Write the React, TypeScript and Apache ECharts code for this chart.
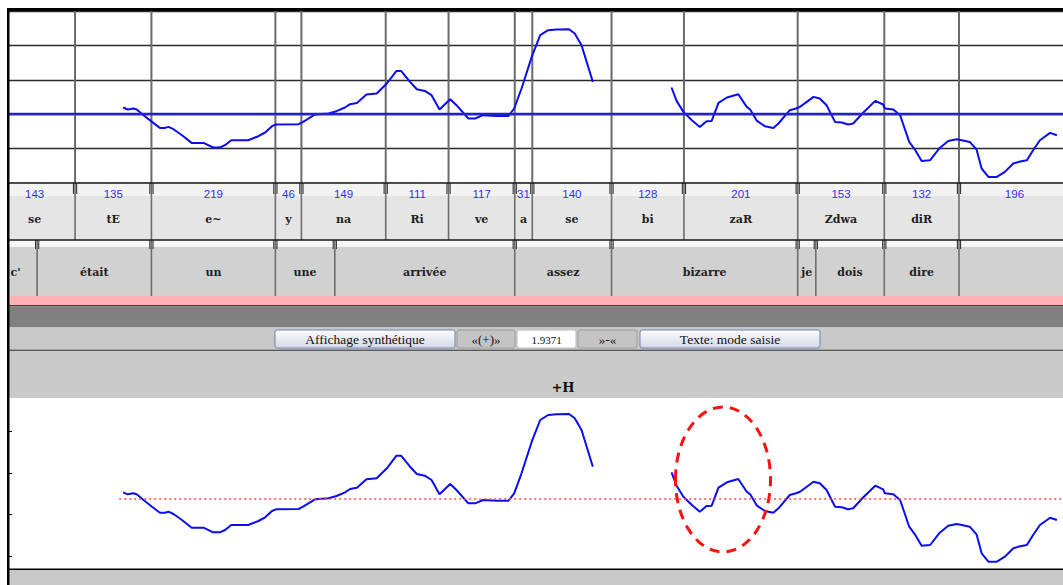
import React, { useEffect, useRef } from "react";
import * as echarts from "echarts";

// ---- data (time in ms, pitch relative to reference line) ----
const sylLabels = ["se", "tE", "e~", "y", "na", "Ri", "ve", "a", "se", "bi", "zaR", "Zdwa", "diR", ""];
const sylDurations = [143, 135, 219, 46, 149, 111, 117, 31, 140, 128, 201, 153, 132, 196];
const wordLabels = ["c'", "était", "un", "une", "arrivée", "assez", "bizarre", "je", "dois", "dire", ""];
const wordBounds = [0, 76, 278, 497, 602, 920, 1091, 1420, 1452, 1573, 1705, 1901];

const f0Time = [
  228, 236, 246, 252, 264, 279, 293, 302, 308, 317, 332, 349, 370, 387, 399, 408, 419, 449, 467, 479,
  491, 498, 538, 546, 567, 591, 605, 620, 629, 641, 658, 676, 694, 711, 719, 735, 747, 761, 773, 787,
  806, 817, 838, 850, 864, 888, 909, 919, 932, 950, 965, 979, 994, 1016, 1026, 1038, 1058,
  1120,
  1197, 1206, 1218, 1233, 1247, 1259, 1268, 1280, 1295, 1315, 1330, 1336, 1348, 1362, 1377, 1386, 1406, 1417, 1424, 1448,
  1459, 1471, 1486, 1498, 1509, 1518, 1536, 1557, 1571, 1574, 1589, 1601, 1610, 1617, 1627, 1639, 1654, 1671, 1686, 1701,
  1710, 1724, 1736, 1745, 1757, 1772, 1786, 1801, 1813, 1825, 1836, 1848, 1866, 1878,
];
const f0Rel: (number | null)[] = [
  6.7, 4.7, 5.7, 4.7, -1, -7.7, -13.7, -13.7, -12.7, -15, -21, -28.7, -28.7, -33.3, -33.3, -31, -26, -26, -22, -18.3,
  -12, -10.3, -10, -7.7, -0.3, 0.7, 3, 6.7, 10, 11.3, 19.7, 20.7, 30.7, 43.3, 43.3, 32.3, 25, 23.3, 19, 4.7,
  15, 9, -4.3, -4.3, -1, -1.7, -1.7, 5.7, 25.7, 57.3, 79, 84, 84.7, 85, 80.7, 69, 32.3,
  null,
  26.7, 13.3, 2.3, -6, -12.7, -7, -6.7, 11.3, 16.7, 20, 7.3, 4.7, -6.7, -12, -13.7, -9.3, 4, 5.7, 7.3, 17.3,
  15.7, 9, -7.7, -8.3, -10.3, -9.3, 1.7, 13.3, 9.7, 5.7, 4.7, -1, -16, -27.7, -35.3, -46.7, -46, -33.7, -26.7, -25,
  -26, -27.7, -35.3, -54.3, -62.7, -62.7, -57.7, -49.3, -47.3, -46, -36, -26, -18.7, -21,
];
const bottomTicks = [68, 26, -15, -57];
const refLineStart = 221;
const highlight = [1288, 19.5, 84, 72.5]; // centre time, centre value, half-width (ms), half-height
const buttons = ["Affichage synthétique", "«(+)»", "1.9371", "»-«", "Texte: mode saisie"];
const annotation = "+H";

const X_MIN = 26.3;
const X_MAX = 1888.8;

function buildOption(): any {
  let acc = 0;
  const sylStarts = sylDurations.map((d) => {
    const s = acc;
    acc += d;
    return s;
  });
  const sylData = sylStarts.map((s, i) => [s, s + sylDurations[i], 0.5, i]);
  const wordData = wordLabels.map((_, i) => [wordBounds[i], wordBounds[i + 1], 0.5, i]);
  const curve = f0Time.map((t, i) => [t, f0Rel[i] === null ? "-" : f0Rel[i]]);

  const tierRender =
    (labels: string[], nums: number[] | null, o: any) => (params: any, api: any) => {
      const i = api.value(3);
      const x0 = api.coord([api.value(0), 0.5])[0];
      const x1 = api.coord([api.value(1), 0.5])[0];
      const cs = params.coordSys;
      const top = cs.y;
      const h = cs.height;
      const children: any[] = [
        { type: "rect", shape: { x: x0, y: top, width: x1 - x0, height: o.stripH }, style: { fill: o.stripFill } },
        { type: "rect", shape: { x: x0, y: top + o.stripH, width: x1 - x0, height: h - o.stripH }, style: { fill: o.fill } },
        { type: "line", shape: { x1: x0, y1: top, x2: x0, y2: top + h }, style: { stroke: "#6e6e6e", lineWidth: 1.6 } },
        { type: "line", shape: { x1: x0 - 1.6, y1: top, x2: x0 - 1.6, y2: top + o.markH }, style: { stroke: "#333", lineWidth: 1.1 } },
        { type: "line", shape: { x1: x0 + 1.6, y1: top, x2: x0 + 1.6, y2: top + o.markH }, style: { stroke: "#333", lineWidth: 1.1 } },
        {
          type: "text",
          style: {
            text: labels[i], x: (x0 + x1) / 2, y: top + o.labelY, align: "center", verticalAlign: "middle",
            font: 'bold 11px "DejaVu Serif"', fill: "#222",
          },
        },
      ];
      if (nums) {
        children.push({
          type: "text",
          style: {
            text: String(nums[i]), x: (x0 + x1) / 2, y: top + o.numY, align: "center", verticalAlign: "middle",
            font: '11.5px "Liberation Sans"', fill: "#2f2fff",
          },
        });
      }
      return { type: "group", children };
    };

  const hidden = { show: false };
  const xAx = (g: number) => ({ type: "value", gridIndex: g, min: X_MIN, max: X_MAX, show: false });

  const btnGrad = {
    type: "linear", x: 0, y: 0, x2: 0, y2: 1,
    colorStops: [{ offset: 0, color: "#fbfcfe" }, { offset: 1, color: "#d3d9e6" }],
  };
  const btnDefs = [
    { x: 275, w: 180, fill: btnGrad, stroke: "#6f83b2", font: '13.5px "Liberation Serif"' },
    { x: 457, w: 58, fill: "#c4c4c4", stroke: "#9c9c9c", font: '13px "Liberation Serif"' },
    { x: 517, w: 59, fill: "#ffffff", stroke: "#bdbdbd", font: '11px "Liberation Serif"' },
    { x: 578, w: 59, fill: "#c4c4c4", stroke: "#9c9c9c", font: '13px "Liberation Serif"' },
    { x: 640, w: 180, fill: btnGrad, stroke: "#6f83b2", font: '13.5px "Liberation Serif"' },
  ];
  const btnEls: any[] = [];
  btnDefs.forEach((b, i) => {
    btnEls.push({
      type: "rect", z: 10, shape: { x: b.x, y: 330, width: b.w, height: 18, r: 2 },
      style: { fill: b.fill, stroke: b.stroke, lineWidth: 1 },
    });
    btnEls.push({
      type: "text", z: 11, x: b.x + b.w / 2, y: 339.5,
      style: { text: buttons[i], font: b.font, fill: "#111", align: "center", verticalAlign: "middle" },
    });
  });

  return {
    animation: false,
    backgroundColor: "#ffffff",
    grid: [
      { left: 9, right: 0, top: 11, height: 172 },
      { left: 9, right: 0, top: 183, height: 57 },
      { left: 9, right: 0, top: 240, height: 56 },
      { left: 9, right: 0, top: 398, height: 171 },
    ],
    xAxis: [xAx(0), xAx(1), xAx(2), xAx(3)],
    yAxis: [
      {
        type: "value", gridIndex: 0, min: -68.8, max: 103.2, interval: 34.4,
        axisLine: hidden, axisTick: hidden, axisLabel: hidden,
        splitLine: { show: true, lineStyle: { color: "#2a2a2a", width: 1.4 } },
      },
      { type: "value", gridIndex: 1, min: 0, max: 1, show: false },
      { type: "value", gridIndex: 2, min: 0, max: 1, show: false },
      {
        type: "value", gridIndex: 3, min: -70, max: 101,
        axisLine: hidden, axisLabel: hidden, splitLine: hidden,
        axisTick: { show: true, inside: true, length: 3, customValues: bottomTicks, lineStyle: { color: "#000", width: 1 } },
      },
    ],
    series: [
      {
        type: "custom", xAxisIndex: 0, yAxisIndex: 0, z: 1, clip: true,
        data: sylStarts.slice(1).map((t) => [t, 0]),
        renderItem: (params: any, api: any) => {
          const x = api.coord([api.value(0), 0])[0];
          const cs = params.coordSys;
          return { type: "line", shape: { x1: x, y1: cs.y, x2: x, y2: cs.y + cs.height }, style: { stroke: "#6a6a6a", lineWidth: 2 } };
        },
      },
      {
        type: "line", xAxisIndex: 0, yAxisIndex: 0, z: 3, data: curve, showSymbol: false, connectNulls: false,
        lineStyle: { color: "#0c0cf2", width: 2 }, silent: true,
        markLine: {
          silent: true, symbol: ["none", "none"], label: { show: false },
          lineStyle: { color: "#2222cc", width: 2.4, type: "solid" },
          data: [{ yAxis: 0 }],
        },
      },
      {
        type: "custom", xAxisIndex: 1, yAxisIndex: 1, clip: true, encode: { x: [0, 1], y: 2 },
        data: sylData,
        renderItem: tierRender(sylLabels, sylDurations, { stripH: 13, stripFill: "#f3f3f3", fill: "#e5e5e5", markH: 11, labelY: 36, numY: 10.5 }),
      },
      {
        type: "custom", xAxisIndex: 2, yAxisIndex: 2, clip: true, encode: { x: [0, 1], y: 2 },
        data: wordData,
        renderItem: tierRender(wordLabels, null, { stripH: 7, stripFill: "#f7f7f7", fill: "#d1d1d1", markH: 9, labelY: 32.5 }),
      },
      {
        type: "line", xAxisIndex: 3, yAxisIndex: 3, z: 3, data: curve, showSymbol: false, connectNulls: false,
        lineStyle: { color: "#0c0cf2", width: 2 }, silent: true,
        markLine: {
          silent: true, symbol: ["none", "none"], label: { show: false },
          lineStyle: { color: "#ff4a4a", width: 1.5, type: [2, 3] },
          data: [[{ coord: [refLineStart, 0] }, { coord: [X_MAX, 0] }]],
        },
      },
      {
        type: "custom", xAxisIndex: 3, yAxisIndex: 3, z: 4, clip: false, encode: { x: 0, y: 1 },
        data: [highlight],
        renderItem: (params: any, api: any) => {
          const c = api.coord([api.value(0), api.value(1)]);
          const sz = api.size([api.value(2), api.value(3)]);
          return {
            type: "ellipse",
            shape: { cx: c[0], cy: c[1], rx: sz[0], ry: sz[1] },
            style: { fill: "none", stroke: "#ff1010", lineWidth: 3, lineDash: [10, 7] },
          };
        },
      },
    ],
    graphic: {
      elements: [
        { type: "rect", z: 5, shape: { x: 9, y: 182.3, width: 1054, height: 1.4 }, style: { fill: "#1a1a1a" } },
        { type: "rect", z: 5, shape: { x: 9, y: 239.3, width: 1054, height: 1.4 }, style: { fill: "#1a1a1a" } },
        { type: "rect", z: 5, shape: { x: 9, y: 296, width: 1054, height: 9 }, style: { fill: "#ffb1b1" } },
        { type: "rect", z: 5, shape: { x: 9, y: 305, width: 1054, height: 1.5 }, style: { fill: "#404040" } },
        { type: "rect", z: 5, shape: { x: 9, y: 306.5, width: 1054, height: 21 }, style: { fill: "#808080" } },
        { type: "rect", z: 5, shape: { x: 9, y: 327.5, width: 1054, height: 22 }, style: { fill: "#c8c8c8" } },
        { type: "rect", z: 5, shape: { x: 9, y: 349.5, width: 1054, height: 1.5 }, style: { fill: "#5a5a5a" } },
        { type: "rect", z: 5, shape: { x: 9, y: 351, width: 1054, height: 47 }, style: { fill: "#cacaca" } },
        {
          type: "text", z: 6, x: 563, y: 387,
          style: { text: annotation, font: 'bold 13px "DejaVu Serif"', fill: "#111", align: "center", verticalAlign: "middle" },
        },
        ...btnEls,
        { type: "rect", z: 5, shape: { x: 9, y: 568.5, width: 1054, height: 1.5 }, style: { fill: "#000" } },
        { type: "rect", z: 5, shape: { x: 9, y: 570, width: 1054, height: 15 }, style: { fill: "#c8c8c8" } },
        { type: "rect", z: 20, shape: { x: 7, y: 8, width: 1056, height: 3 }, style: { fill: "#000" } },
        { type: "rect", z: 20, shape: { x: 7, y: 8, width: 2.5, height: 577 }, style: { fill: "#000" } },
      ],
    },
  };
}

export default function App() {
  const ref = useRef<HTMLDivElement>(null);
  useEffect(() => {
    const chart = echarts.init(ref.current as HTMLDivElement, null, { renderer: "svg" });
    chart.setOption(buildOption());
    return () => chart.dispose();
  }, []);
  return (
    <div
      ref={ref}
      style={{ position: "fixed", left: 0, top: 0, width: 1063, height: 585, background: "#ffffff" }}
    />
  );
}
